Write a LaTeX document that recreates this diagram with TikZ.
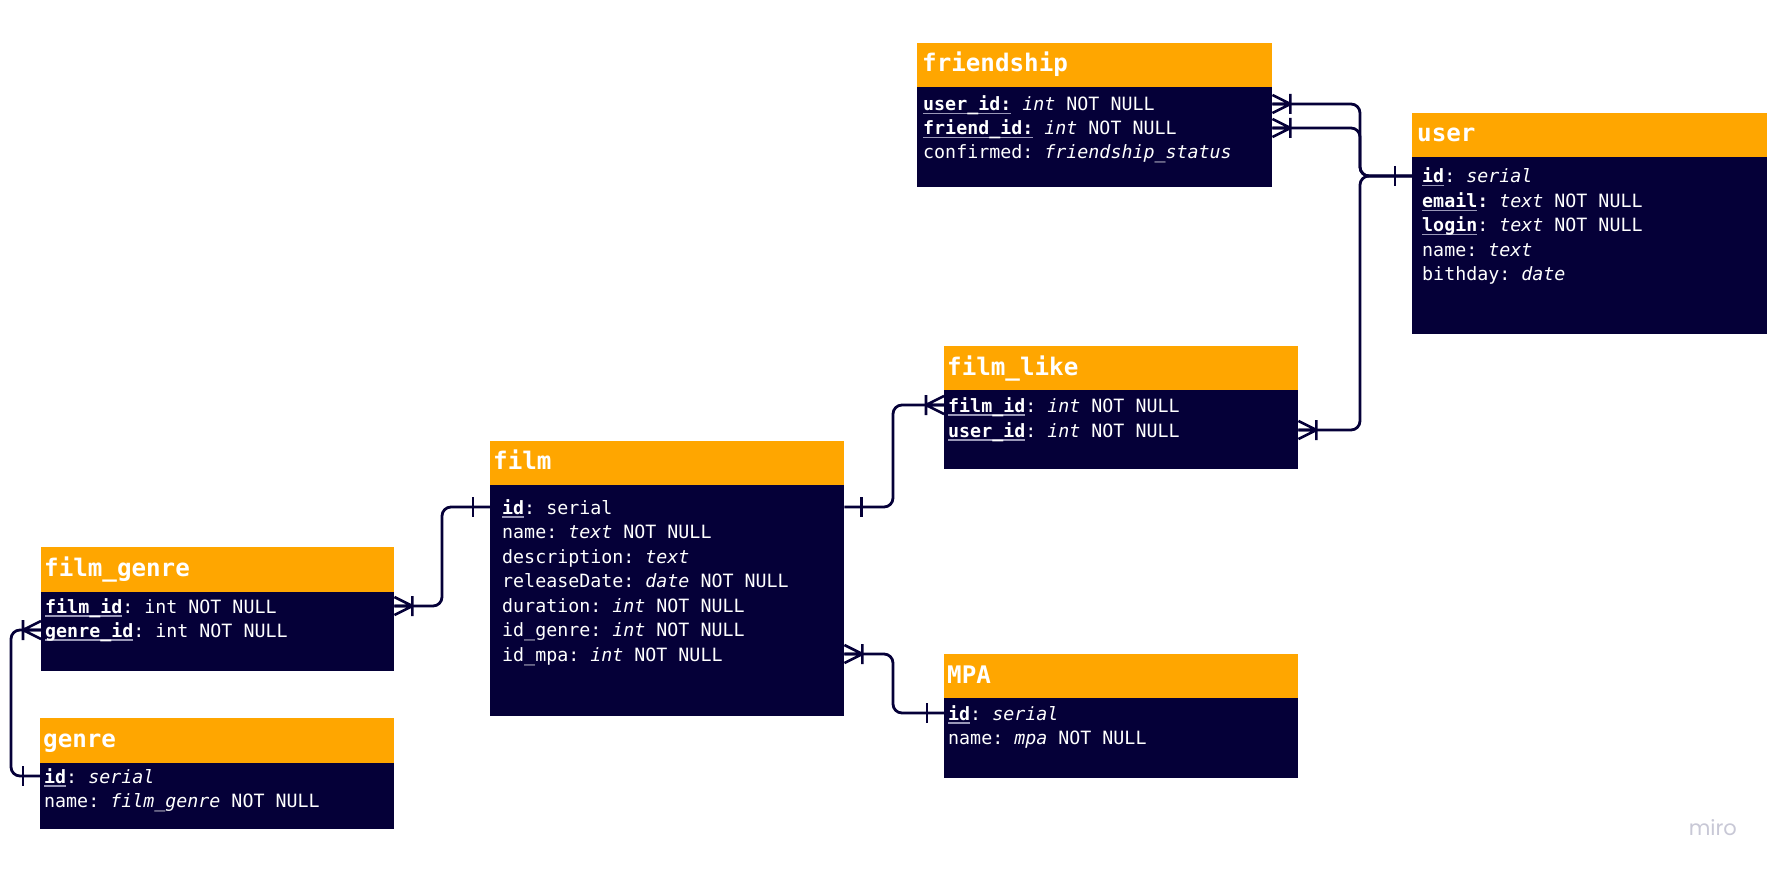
\documentclass[tikz,border=0pt]{standalone}
\usepackage{fontspec}
\setmonofont{DejaVu Sans Mono}
\newfontfamily\logofont{Poppins}
\definecolor{orng}{HTML}{FFA600}
\definecolor{navy}{HTML}{050038}
\definecolor{ulc}{HTML}{9A98B8}
\definecolor{mirogray}{HTML}{C8C8D6}
\newcommand\ulk[1]{\setbox0\hbox{\bfseries #1}\rlap{\textcolor{ulc}{\rule[-3.5pt]{\wd0}{1.3pt}}}\box0\relax}
\begin{document}
\begin{tikzpicture}[x=1pt,y=-1pt,
  head/.style={fill=orng, draw=none, anchor=north west, inner sep=0pt, minimum height=44pt},
  body/.style={fill=navy, draw=none, anchor=north west, inner sep=0pt},
  title/.style={anchor=base west, inner sep=0pt, text=white, font=\ttfamily\bfseries\fontsize{24.2}{29}\selectfont},
  row/.style={anchor=base west, inner sep=0pt, text=white, text height=14pt, text depth=0pt, font=\ttfamily\fontsize{18.3}{22}\selectfont},
  conn/.style={draw=navy, line width=2.8pt, rounded corners=9pt},
  pics/crow/.style={code={\draw[navy, line width=2.6pt] (0,-9) -- (18,0) -- (0,9) (0,0) -- (18,0) (18,-10) -- (18,10);}},
  pics/onebar/.style={code={\draw[navy, line width=2.6pt] (17,-10) -- (17,10);}}
]
\fill[white] (0,0) rectangle (1780,877);
\useasboundingbox (0,0) rectangle (1780,877);

% friendship
\node[head, minimum width=355pt] (fsh) at (917,43) {};
\node[body, minimum width=355pt, minimum height=100pt] (fsb) at (917,87) {};
\node[title] (fst) at (922,72) {friendship};
\node[row] (fs1) at (923,111) {\ulk{user\_id:} \textit{int} NOT NULL};
\node[row] (fs2) at (923,135) {\ulk{friend\_id:} \textit{int} NOT NULL};
\node[row] (fs3) at (923,159) {confirmed: \textit{friendship\_status}};

% user
\node[head, minimum width=355pt] (uh) at (1412,113) {};
\node[body, minimum width=355pt, minimum height=177pt] (ub) at (1412,157) {};
\node[title] (ut) at (1417,142) {user};
\node[row] (u1) at (1422,183) {\ulk{id}: \textit{serial}};
\node[row] (u2) at (1422,207.5) {\ulk{email}\textbf{:} \textit{text} NOT NULL};
\node[row] (u3) at (1422,232) {\ulk{login}: \textit{text} NOT NULL};
\node[row] (u4) at (1422,256.5) {name: \textit{text}};
\node[row] (u5) at (1422,281) {bithday: \textit{date}};

% film_like
\node[head, minimum width=354pt] (flh) at (944,346) {};
\node[body, minimum width=354pt, minimum height=79pt] (flb) at (944,390) {};
\node[title] (flt) at (947,375) {film\_like};
\node[row] (fl1) at (948,412) {\ulk{film\_id}: \textit{int} NOT NULL};
\node[row] (fl2) at (948,437) {\ulk{user\_id}: \textit{int} NOT NULL};

% film
\node[head, minimum width=354pt] (fh) at (490,441) {};
\node[body, minimum width=354pt, minimum height=231pt] (fb) at (490,485) {};
\node[title] (ft) at (493,469) {film};
\node[row] (f1) at (502,514) {\ulk{id}: serial};
\node[row] (f2) at (502,538.5) {name: \textit{text} NOT NULL};
\node[row] (f3) at (502,563) {description: \textit{text}};
\node[row] (f4) at (502,587.5) {releaseDate: \textit{date} NOT NULL};
\node[row] (f5) at (502,612) {duration: \textit{int} NOT NULL};
\node[row] (f6) at (502,636.5) {id\_genre: \textit{int} NOT NULL};
\node[row] (f7) at (502,661) {id\_mpa: \textit{int} NOT NULL};

% film_genre
\node[head, minimum width=353pt, minimum height=45pt] (fgh) at (41,547) {};
\node[body, minimum width=353pt, minimum height=79pt] (fgb) at (41,592) {};
\node[title] (fgt) at (44,576) {film\_genre};
\node[row] (fg1) at (45,613) {\ulk{film\_id}: int NOT NULL};
\node[row] (fg2) at (45,637) {\ulk{genre\_id}: int NOT NULL};

% genre
\node[head, minimum width=354pt, minimum height=45pt] (gh) at (40,718) {};
\node[body, minimum width=354pt, minimum height=66pt] (gb) at (40,763) {};
\node[title] (gt) at (43,747) {genre};
\node[row] (g1) at (44,783) {\ulk{id}: \textit{serial}};
\node[row] (g2) at (44,807) {name: \textit{film\_genre} NOT NULL};

% MPA
\node[head, minimum width=354pt] (mh) at (944,654) {};
\node[body, minimum width=354pt, minimum height=80pt] (mb) at (944,698) {};
\node[title] (mt) at (947,683) {MPA};
\node[row] (m1) at (948,720) {\ulk{id}: \textit{serial}};
\node[row] (m2) at (948,744) {name: \textit{mpa} NOT NULL};

% logo
\node[anchor=base east, inner sep=0pt, text=mirogray, font=\logofont\fontsize{21}{25}\selectfont] (logo) at (1737,835) {miro};

% junction columns
\coordinate (jx) at (1360,0);
\coordinate (jy) at (893,0);
\coordinate (jz) at (442,0);
\coordinate (jw) at (11,0);

% connectors
\draw[conn] (fsb.east |- fs1) -| (jx |- u1) -- (ub.west |- u1);
\draw[conn] (fsb.east |- fs2) -| (jx |- u1) -- (ub.west |- u1);
\draw[conn] (flb.east |- fl2) -| (jx |- u1) -- (ub.west |- u1);
\draw[conn] (fb.east |- f1) -| (jy |- fl1) -- (flb.west |- fl1);
\draw[conn] (fb.east |- f7) -| (jy |- m1) -- (mb.west |- m1);
\draw[conn] (fgb.east |- fg1) -| (jz |- f1) -- (fb.west |- f1);
\draw[conn] (gb.west |- g1) -| (jw |- fg2) -- (fgb.west |- fg2);

% ends
\pic at (fsb.east |- fs1) {crow};
\pic at (fsb.east |- fs2) {crow};
\pic[xscale=-1] at (ub.west |- u1) {onebar};
\pic at (flb.east |- fl2) {crow};
\pic[xscale=-1] at (flb.west |- fl1) {crow};
\pic at (fb.east |- f1) {onebar};
\pic at (fb.east |- f7) {crow};
\pic[xscale=-1] at (mb.west |- m1) {onebar};
\pic at (fgb.east |- fg1) {crow};
\pic[xscale=-1] at (fb.west |- f1) {onebar};
\pic[xscale=-1] at (gb.west |- g1) {onebar};
\pic[xscale=-1] at (fgb.west |- fg2) {crow};
\end{tikzpicture}
\end{document}
